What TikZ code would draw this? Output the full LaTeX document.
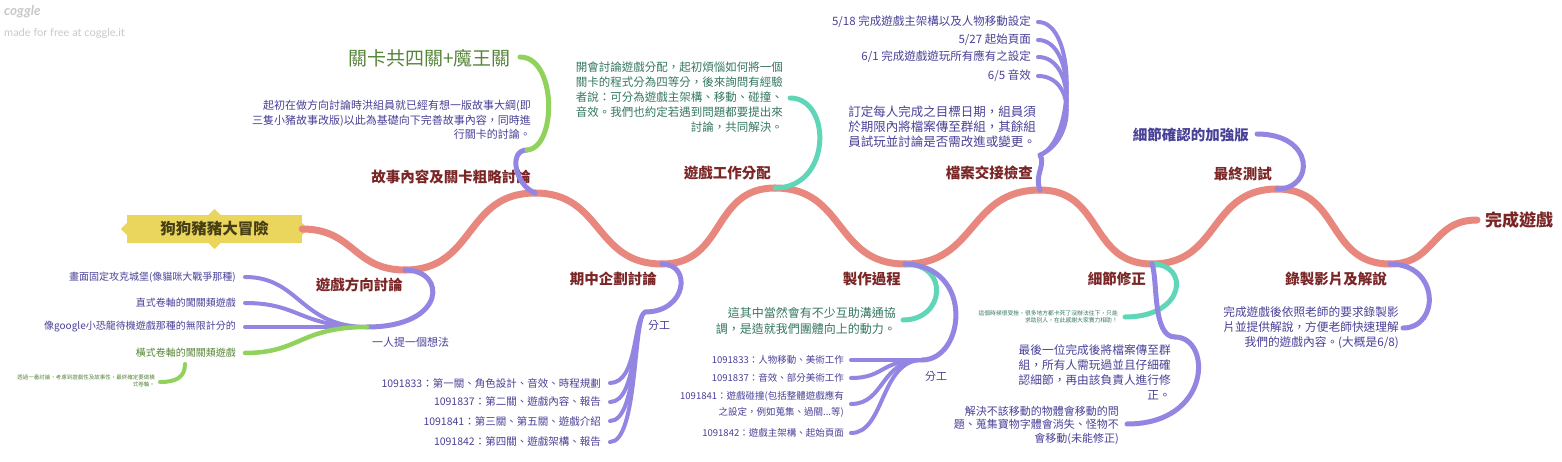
\documentclass[tikz,border=0pt]{standalone}
\usepackage{fontspec}
\setmainfont{Noto Sans CJK TC}
\newfontfamily\logofont{Lato}
\definecolor{spinec}{RGB}{232,135,125}
\definecolor{purpc}{RGB}{146,134,226}
\definecolor{tealc}{RGB}{96,214,184}
\definecolor{greenc}{RGB}{144,210,92}
\definecolor{headc}{RGB}{122,38,38}
\definecolor{purptxt}{RGB}{72,64,150}
\definecolor{tealtxt}{RGB}{52,118,98}
\definecolor{greentxt}{RGB}{86,132,56}
\definecolor{rootc}{RGB}{234,214,92}
\definecolor{roottxt}{RGB}{70,62,20}
\definecolor{logoc}{RGB}{200,200,200}
\newcommand\fsz[2]{\fontsize{#1}{#2}\selectfont}
\tikzset{
  spine/.style={draw=spinec, line width=7pt, line cap=round},
  purpbranch/.style={draw=purpc, line width=5pt, line cap=round},
  purpleaf/.style={draw=purpc, line width=4pt, line cap=round},
  tealbranch/.style={draw=tealc, line width=5pt, line cap=round},
  greenbranch/.style={draw=greenc, line width=5pt, line cap=round},
  heading/.style={inner sep=0pt, text=headc, font=\fsz{14.5}{16}\bfseries},
  purptext/.style={inner sep=0pt, text=purptxt, align=right},
  tealtext/.style={inner sep=0pt, text=tealtxt, align=right},
  greentext/.style={inner sep=0pt, text=greentxt, align=right},
  rootbox/.style={fill=rootc, text=roottxt, minimum width=175pt, minimum height=28pt, inner sep=0pt, font=\fsz{15.5}{17}\bfseries},
}
\begin{document}
\begin{tikzpicture}[x=1pt,y=-1pt]
                \useasboundingbox (0,0) rectangle (1562,462);

                % Logo
                \node[anchor=west, inner sep=0pt, text=logoc, font=\logofont\fsz{13.5}{14}\bfseries\itshape] (logo) at (4,12) {coggle};
                \node[anchor=west, inner sep=0pt, text=logoc, font=\logofont\fsz{11}{12}] (logonote) at (4,33) {made for free at coggle.it};

                % Root box with its tips
                \node[rootbox] (root) at (214.5,229) {狗狗豬豬大冒險};
                \fill[rootc] (root.west) ++(0,-6) -- ++(-6,6) -- ++(6,6) -- cycle;
                \fill[rootc] (root.east) ++(0,-6) -- ++(6,6) -- ++(-6,6) -- cycle;
                \fill[rootc] (root.north) ++(-6,0) -- ++(6,-6) -- ++(6,6) -- cycle;
                \fill[rootc] (root.south) ++(-6,0) -- ++(6,6) -- ++(6,-6) -- cycle;

                % Junctions on the main line
                \coordinate (p1) at (405,270);
                \coordinate (p2) at (535,193);
                \coordinate (p3) at (662,264);
                \coordinate (p4) at (775,188);
                \coordinate (p5) at (905,264);
                \coordinate (p6) at (1040,190);
                \coordinate (p7) at (1152,264);
                \coordinate (p8) at (1277,189);
                \coordinate (p9) at (1390,264);
                \coordinate (p10) at (1477,220);

                % Drawing main line
                \draw[spine] (root.east) to[out=0,in=180,looseness=1.2] (p1);
                \draw[spine] (p1) to[out=0,in=180,looseness=1.2] (p2);
                \draw[spine] (p2) to[out=0,in=180,looseness=1.2] (p3);
                \draw[spine] (p3) to[out=0,in=180,looseness=1.2] (p4);
                \draw[spine] (p4) to[out=0,in=180,looseness=1.2] (p5);
                \draw[spine] (p5) to[out=0,in=180,looseness=1.2] (p6);
                \draw[spine] (p6) to[out=0,in=180,looseness=1.2] (p7);
                \draw[spine] (p7) to[out=0,in=180,looseness=1.2] (p8);
                \draw[spine] (p8) to[out=0,in=180,looseness=1.2] (p9);
                \draw[spine] (p9) to[out=0,in=180,looseness=1.2] (p10);

                % Headings
                \node[heading, anchor=east] (fangxiang) at (403,285) {遊戲方向討論};
                \node[heading, anchor=east] (gushi) at (531,177) {故事內容及關卡粗略討論};
                \node[heading, anchor=east] (qizhong) at (657,279) {期中企劃討論};
                \node[heading, anchor=east] (fenpei) at (771,173) {遊戲工作分配};
                \node[heading, anchor=east] (zhizuo) at (901,279) {製作過程};
                \node[heading, anchor=east] (jiaojie) at (1033,173) {檔案交接檢查};
                \node[heading, anchor=east] (xiuzheng) at (1146,279) {細節修正};
                \node[heading, anchor=east] (ceshi) at (1272,174) {最終測試};
                \node[heading, anchor=east] (luzhi) at (1387,279) {錄製影片及解說};
                \node[heading, anchor=west, font=\fsz{17}{19}\bfseries] (wancheng) at (1485,220) {完成遊戲};

                % Game direction branch
                \coordinate (q1) at (367,327);
                \coordinate (l11) at (245,277);
                \coordinate (l12) at (245,303);
                \coordinate (l13) at (245,327);
                \coordinate (l14) at (245,353);
                \coordinate (g1a) at (185,364);
                \coordinate (g1b) at (160,382);
                \draw[purpbranch] (p1) .. controls (447,270) and (447,327) .. (q1);
                \draw[purpleaf] (q1) .. controls (300,327) and (300,277) .. (l11);
                \draw[purpleaf] (q1) .. controls (300,327) and (300,303) .. (l12);
                \draw[purpleaf] (q1) -- (l13);
                \draw[greenbranch, line width=4.5pt] (q1) .. controls (300,327) and (300,353) .. (l14);
                \draw[greenbranch, line width=4pt] (g1a) .. controls (185,378) and (175,382) .. (g1b);
                \node[purptext, anchor=west, font=\fsz{11}{13}] (yiren) at (372,342) {一人提一個想法};
                \node[purptext, anchor=east, font=\fsz{10}{12}] (idea1) at (236,277) {畫面固定攻克城堡(像貓咪大戰爭那種)};
                \node[purptext, anchor=east, font=\fsz{10}{12}] (idea2) at (236,303) {直式卷軸的闖關類遊戲};
                \node[purptext, anchor=east, font=\fsz{10}{12}] (idea3) at (236,327) {像google小恐龍待機遊戲那種的無限計分的};
                \node[greentext, anchor=east, font=\fsz{10}{12}] (idea4) at (236,353) {橫式卷軸的闖關類遊戲};
                \node[greentext, anchor=east, font=\fsz{5.5}{6.5}] (idea4note) at (155,381) {透過一番討論，考慮到遊戲性及故事性，最終確定要做橫\\式卷軸。};

                % Story branch
                \coordinate (q2) at (527,150);
                \coordinate (g2) at (520,57);
                \draw[purpbranch] (p2) .. controls (515,185) and (508,150) .. (q2);
                \draw[greenbranch] (q2) .. controls (557,148) and (557,57) .. (g2);
                \node[purptext, anchor=east, font=\fsz{11}{14.5}] (storytext) at (531,120) {起初在做方向討論時洪組員就已經有想一版故事大綱(即\\三隻小豬故事改版)以此為基礎向下完善故事內容，同時進\\行關卡的討論。};
                \node[greentext, anchor=east, font=\fsz{19}{21}] (stages) at (511,58) {關卡共四關+魔王關};

                % Midterm plan branch
                \coordinate (q3) at (645,312);
                \draw[purpbranch] (p3) .. controls (692,264) and (687,312) .. (q3);
                \node[purptext, anchor=west, font=\fsz{11}{13}] (fengong1) at (648,325) {分工};
                \foreach \y/\name/\txt in {383/m1/{1091833：第一關、角色設計、音效、時程規劃},
                                           402/m2/{1091837：第二關、遊戲內容、報告},
                                           421/m3/{1091841：第三關、第五關、遊戲介紹},
                                           442/m4/{1091842：第四關、遊戲架構、報告}} {
                  \coordinate (\name end) at (610,\y);
                  \draw[purpleaf] (q3) .. controls (633,318) and (638,\y) .. (\name end);
                  \node[purptext, anchor=east, font=\fsz{10.5}{12}] (\name) at (601,\y) {\txt};
                }

                % Work division branch
                \coordinate (t4) at (790,98);
                \draw[tealbranch] (p4) .. controls (832,188) and (832,98) .. (t4);
                \node[tealtext, anchor=east, font=\fsz{11.5}{15}] (divtext) at (783,97) {開會討論遊戲分配，起初煩惱如何將一個\\關卡的程式分為四等分，後來詢問有經驗\\者說：可分為遊戲主架構、移動、碰撞、\\音效。我們也約定若遇到問題都要提出來\\討論，共同解決。};

                % Production branch
                \coordinate (t5) at (903,320);
                \coordinate (q5) at (922,360);
                \draw[tealbranch] (p5) .. controls (950,264) and (945,320) .. (t5);
                \draw[purpbranch] (p5) .. controls (975,266) and (965,360) .. (q5);
                \node[tealtext, anchor=east, font=\fsz{12}{16}] (helptext) at (896,321) {這其中當然會有不少互助溝通協\\調，是造就我們團體向上的動力。};
                \node[purptext, anchor=west, font=\fsz{11}{13}] (fengong2) at (925,376) {分工};
                \foreach \y/\name/\txt in {360/w1/{1091833：人物移動、美術工作},
                                           378/w2/{1091837：音效、部分美術工作},
                                           404/w3/{1091841：遊戲碰撞(包括整體遊戲應有\\之設定，例如蒐集、過關...等)},
                                           433/w4/{1091842：遊戲主架構、起始頁面}} {
                  \coordinate (\name end) at (851,\y);
                  \draw[purpleaf] (q5) .. controls (880,360) and (885,\y) .. (\name end);
                  \node[purptext, anchor=east, font=\fsz{9.5}{16}] (\name) at (844,\y) {\txt};
                }

                % File handover branch
                \coordinate (q6) at (1040,155);
                \draw[purpbranch] (p6) .. controls (1034,175) and (1046,165) .. (q6);
                \node[purptext, anchor=east, font=\fsz{12.5}{15}] (handtext) at (1036,127) {訂定每人完成之目標日期，組員須\\於期限內將檔案傳至群組，其餘組\\員試玩並討論是否需改進或變更。};
                \foreach \y/\name/\txt in {22/d1/{5/18 完成遊戲主架構以及人物移動設定},
                                           40/d2/{5/27 起始頁面},
                                           57/d3/{6/1 完成遊戲遊玩所有應有之設定},
                                           76/d4/{6/5 音效}} {
                  \coordinate (\name end) at (1038,\y);
                  \draw[purpleaf] (q6) .. controls (1076,140) and (1076,\y) .. (\name end);
                  \node[purptext, anchor=east, font=\fsz{11.5}{13}] (\name) at (1031,\y) {\txt};
                }

                % Detail fix branch
                \coordinate (t7) at (1125,317);
                \coordinate (q7) at (1175,337);
                \coordinate (e7) at (1127,424);
                \draw[tealbranch] (p7) .. controls (1190,264) and (1186,317) .. (t7);
                \draw[purpbranch] (p7) .. controls (1158,280) and (1152,337) .. (q7);
                \draw[purpbranch] (q7) .. controls (1212,337) and (1212,424) .. (e7);
                \node[tealtext, anchor=east, font=\fsz{5.8}{7}] (stuck) at (1118,317) {這個時候很受挫，很多地方都卡死了沒辦法往下，只能\\求助別人，在此感謝大家賣力相助！};
                \node[purptext, anchor=east, font=\fsz{11.7}{15}] (fixtext) at (1171,372) {最後一位完成後將檔案傳至群\\組，所有人需玩過並且仔細確\\認細節，再由該負責人進行修\\正。};
                \node[purptext, anchor=east, font=\fsz{11}{13.5}] (bugtext) at (1119,425) {解決不該移動的物體會移動的問\\題、蒐集寶物字體會消失、怪物不\\會移動(未能修正)};

                % Final test branch
                \coordinate (e8) at (1257,134);
                \draw[purpbranch] (p8) .. controls (1315,189) and (1315,134) .. (e8);
                \node[purptext, anchor=east, font=\fsz{14.5}{16}\bfseries] (check) at (1249,135) {細節確認的加強版};

                % Recording branch
                \coordinate (e9) at (1403,328);
                \draw[purpbranch] (p9) .. controls (1440,264) and (1440,328) .. (e9);
                \node[purptext, anchor=east, font=\fsz{11.7}{15}] (videotext) at (1399,328) {完成遊戲後依照老師的要求錄製影\\片並提供解說，方便老師快速理解\\我們的遊戲內容。(大概是6/8)};
\end{tikzpicture}
\end{document}
